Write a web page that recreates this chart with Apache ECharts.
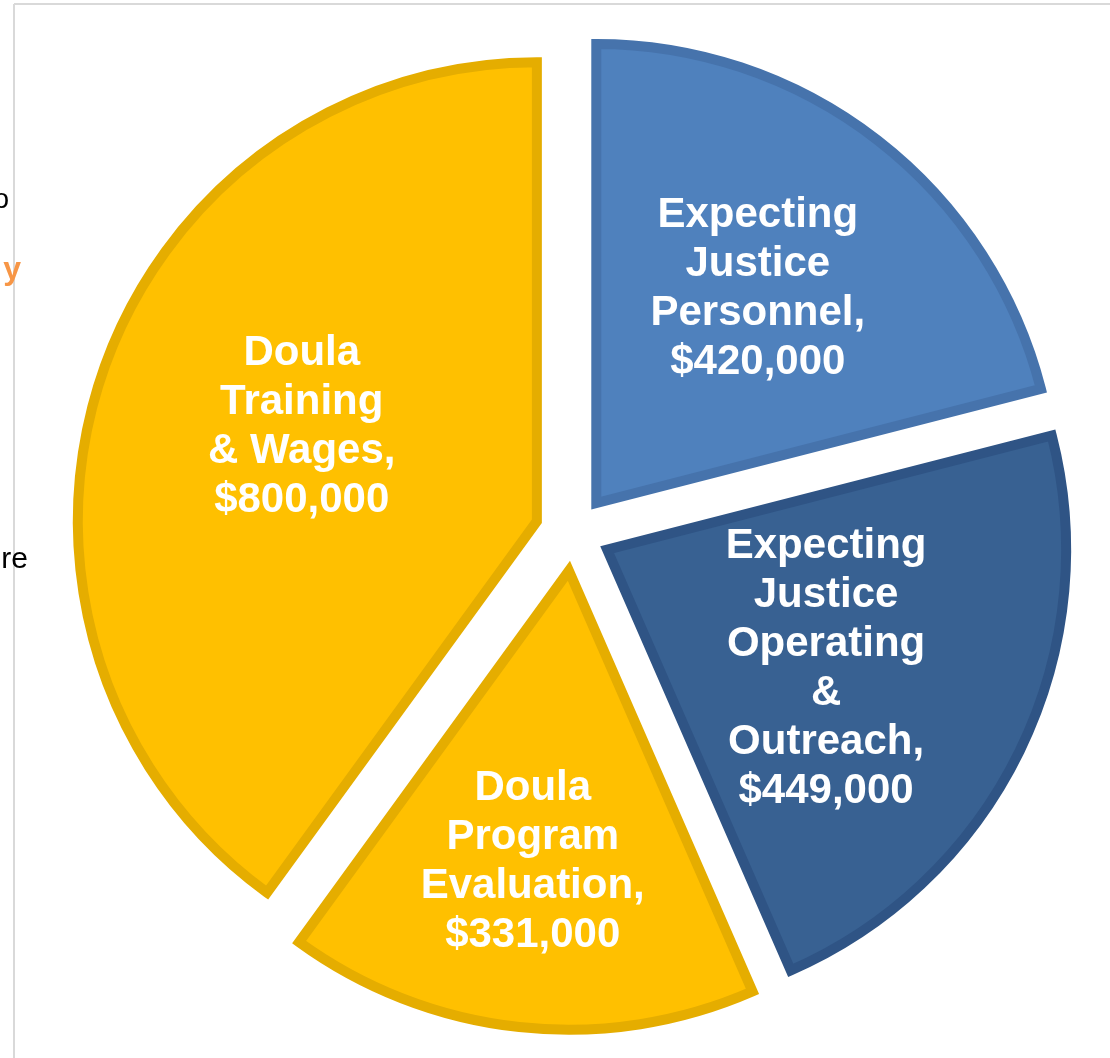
<!DOCTYPE html>
<html>
<head>
<meta charset="utf-8">
<script src="https://cdn.jsdelivr.net/npm/echarts@6/dist/echarts.min.js"></script>
<style>html,body{margin:0;padding:0;background:#fff;}#c{width:1110px;height:1058px;}</style>
</head>
<body>
<div id="c"></div>
<script>
var categories = [
  'Expecting\nJustice\nPersonnel',
  'Expecting\nJustice\nOperating\n&\nOutreach',
  'Doula\nProgram\nEvaluation',
  'Doula\nTraining\n& Wages'
];
var values = [420000, 449000, 331000, 800000];
var fills = ['#4F81BD', '#386192', '#FFC000', '#FFC000'];
var borders = ['#4673AC', '#2F5485', '#E5AD00', '#E5AD00'];
var labelShift = [[19, -30], [10, 17], [-11, 60], [-14, -22]];

var chart = echarts.init(document.getElementById('c'), null, {renderer: 'canvas'});
var data = categories.map(function (n, i) {
  return {
    name: n, value: values[i], selected: true,
    itemStyle: {color: fills[i], borderColor: borders[i]}
  };
});
chart.setOption({
  animation: false,
  backgroundColor: '#ffffff',
  graphic: [
    {type: 'line', shape: {x1: 14, y1: 4, x2: 1110, y2: 4}, style: {stroke: '#d9d9d9', lineWidth: 2}, z: 0},
    {type: 'line', shape: {x1: 14, y1: 4, x2: 14, y2: 1058}, style: {stroke: '#d9d9d9', lineWidth: 2}, z: 0},
    {type: 'text', x: 9, y: 200, style: {text: 'o', font: '28px "Liberation Sans", Arial', fill: '#000', align: 'right', verticalAlign: 'middle'}},
    {type: 'text', x: 21, y: 270, style: {text: 'y', font: 'bold 32px "Liberation Sans", Arial', fill: '#F79646', align: 'right', verticalAlign: 'middle'}},
    {type: 'text', x: 28, y: 560, style: {text: 're', font: '30px "Liberation Sans", Arial', fill: '#000', align: 'right', verticalAlign: 'middle'}}
  ],
  series: [{
    type: 'pie',
    center: [573, 533],
    radius: [0, 459],
    startAngle: 90,
    clockwise: true,
    selectedMode: 'multiple',
    selectedOffset: 38,
    silent: true,
    itemStyle: {borderWidth: 10, borderJoin: 'miter', borderMiterLimit: 10},
    emphasis: {disabled: true},
    label: {
      show: true,
      position: 'inside',
      color: '#ffffff',
      fontFamily: '"Liberation Sans", Arial, sans-serif',
      fontWeight: 'bold',
      fontSize: 42,
      lineHeight: 49,
      align: 'center',
      formatter: function (p) {
        return p.name + ',\n$' + p.value.toLocaleString('en-US');
      }
    },
    labelLine: {show: false},
    labelLayout: function (p) {
      var s = labelShift[p.dataIndex];
      return {dx: s[0], dy: s[1]};
    },
    data: data
  }]
});
</script>
</body>
</html>
